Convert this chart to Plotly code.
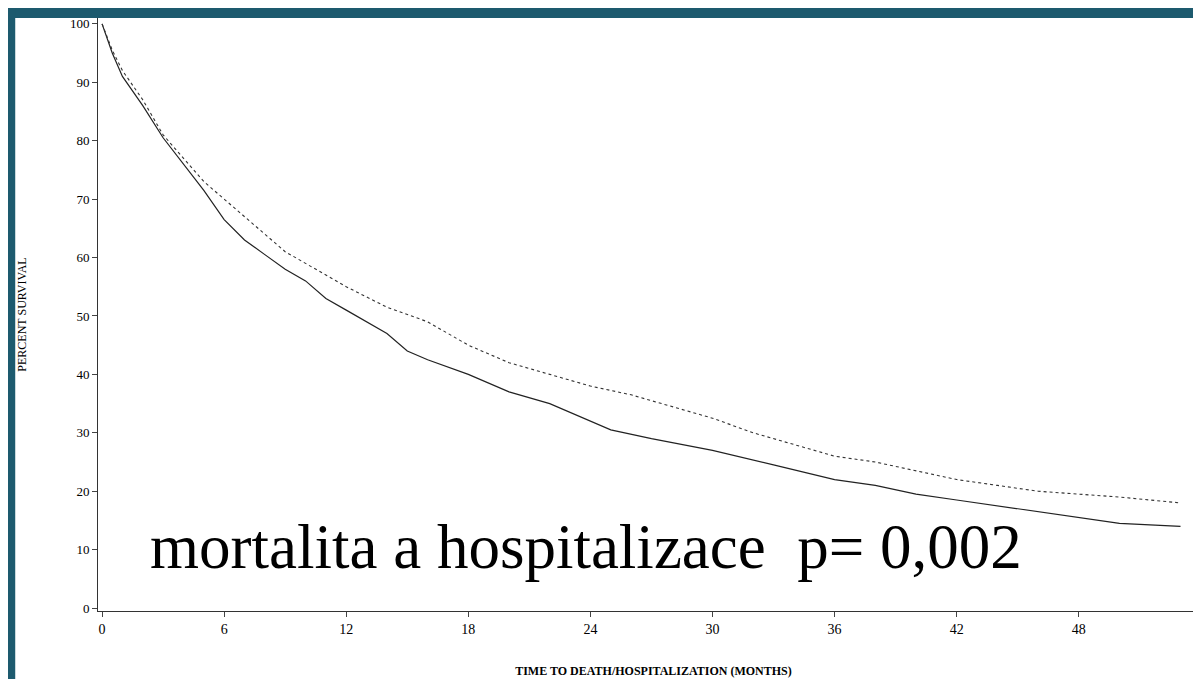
import plotly.graph_objects as go

t_solid = [0,0.5,1,2,3,4,5,6,7,8,9,10,11,12,13,14,15,16,18,20,22,24,25,27,30,33,36,38,40,42,45,48,50,53]
s_solid = [100,95,91,86,80.5,76,71.5,66.5,63,60.5,58,56,53,51,49,47,44,42.5,40,37,35,32,30.5,29,27,24.5,22,21,19.5,18.5,17,15.5,14.5,14]
t_dash = [0,0.5,1,2,3,4,5,6,7,8,9,10,12,14,16,18,20,22,24,26,28,30,32,34,36,38,40,42,44,46,48,50,53]
s_dash = [100,95.5,92,87,81,77,73,70,67,64,61,59,55,51.5,49,45,42,40,38,36.5,34.5,32.5,30,28,26,25,23.5,22,21,20,19.5,19,18]
x_ticks = [0,6,12,18,24,30,36,42,48,54]
y_ticks = [0,10,20,30,40,50,60,70,80,90,100]

fig = go.Figure()
fig.add_trace(go.Scatter(x=t_solid, y=s_solid, mode="lines", line=dict(color="#222", width=1.2)))
fig.add_trace(go.Scatter(x=t_dash, y=s_dash, mode="lines", line=dict(color="#333", width=1.1, dash="dot")))
fig.add_annotation(x=23.8, y=10.5, text="mortalita a hospitalizace  p= 0,002", showarrow=False,
                   font=dict(family="Liberation Serif", size=63, color="black"))
fig.update_layout(
    width=1201, height=679, showlegend=False, plot_bgcolor="white", paper_bgcolor="white",
    margin=dict(l=90, r=0, t=10, b=76),
    font=dict(family="Liberation Serif", color="black"),
    xaxis=dict(range=[-0.2, 54.4], tickvals=x_ticks, ticks="outside", ticklen=5, showgrid=False,
               zeroline=False, showline=True, linecolor="#333", tickfont=dict(size=14),
               title=dict(text="<b>TIME TO DEATH/HOSPITALIZATION (MONTHS)</b>", font=dict(size=12), standoff=30)),
    yaxis=dict(range=[-0.5, 101], tickvals=y_ticks, ticks="outside", ticklen=5, showgrid=False,
               zeroline=False, showline=True, linecolor="#333", tickfont=dict(size=13),
               title=dict(text="PERCENT SURVIVAL", font=dict(size=12), standoff=40)),
)
fig.add_shape(type="rect", xref="paper", yref="paper", x0=-0.09, x1=1.0, y0=1.0, y1=1.03,
              fillcolor="#1d5a6e", line_width=0, layer="above")
fig.add_shape(type="rect", xref="paper", yref="paper", x0=-0.0815, x1=-0.0745, y0=-0.14, y1=1.03,
              fillcolor="#1d5a6e", line_width=0, layer="above")
fig.write_html("out.html")
